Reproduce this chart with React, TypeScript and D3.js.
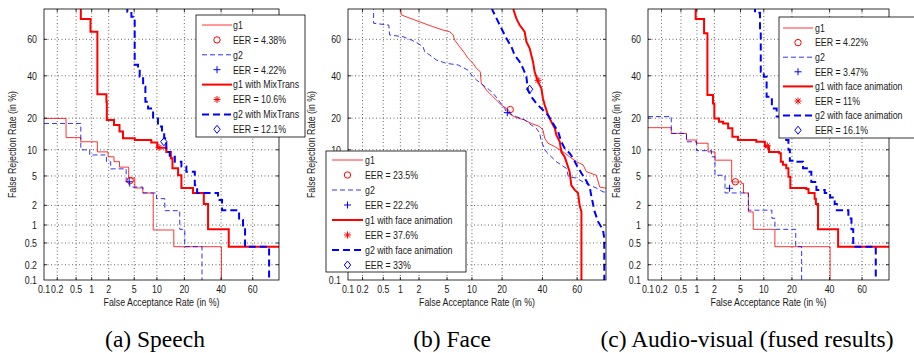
import { useEffect, useRef } from "react"
import * as d3 from "d3"

type Pt = [number, number]

// DET axes: both in %, on a normal-deviate scale
const ticks = [0.1, 0.2, 0.5, 1, 2, 5, 10, 20, 40, 60]
const tickLabels = ["0.1", "0.2", "0.5", "1", "2", "5", "10", "20", "40", "60"]
const axisMin = 0.1
const axisMax = 75

// (a) Speech  [FA %, FR %]
const speechG1: Pt[] = [
  [0.1, 19.9], [0.31, 13.3], [0.62, 12.1], [1.27, 9.5], [1.95, 8.4], [2.45, 7.4], [3.0, 6.4],
  [4.15, 4.7], [5.1, 3.5], [6.6, 3.0], [9.0, 0.83], [15.6, 0.43], [40.2, 0.05],
]
const speechG2: Pt[] = [
  [0.1, 18], [0.62, 10], [0.92, 8.8], [1.83, 7.4], [2.16, 6.1], [3.8, 4.2], [4.3, 3.6], [6.6, 3.0],
  [9.9, 2.5], [12.4, 1.67], [18, 0.85], [20.2, 0.43], [28.8, 0.05],
]
const speechG1Mix: Pt[] = [
  [0.62, 95], [0.62, 70.4], [0.95, 64], [1.27, 30.5], [1.83, 27], [1.86, 19.3], [2.45, 17.4],
  [3.0, 15.2], [3.4, 13.1], [5.1, 12.6], [8.5, 11.9], [10.1, 10.5], [12.9, 9.5], [14.5, 8.1],
  [15.1, 6.2], [17.3, 5.1], [18.7, 3.5], [24.1, 3.0], [29.8, 2.1], [32.2, 0.85], [44.8, 0.43], [90, 0.43],
]
const speechG2Mix: Pt[] = [
  [3.96, 95], [3.96, 73.8], [4.55, 71.5], [5.08, 67.4], [5.08, 46], [5.66, 44], [5.97, 39.5],
  [6.65, 34.3], [7.13, 27], [7.74, 24], [8.97, 19.9], [10.3, 16.9], [11.5, 15.2], [12.2, 13.1],
  [12.9, 9.5], [14.1, 8.4], [16.0, 7.4], [18.7, 6.5], [20.9, 5.65], [25.0, 3.8], [26.2, 3.0],
  [38.1, 2.4], [40.6, 1.7], [51.4, 1.2], [53.9, 0.85], [55.2, 0.43], [69.7, 0.05],
]
const speechEER = [4.38, 4.22, 10.6, 12.1]

// (b) Face
const faceG1: Pt[] = [
  [0.97, 80], [1.04, 72.3], [1.71, 69.9], [3.2, 66.6], [4.4, 64.9], [5.4, 64.0], [6.0, 62.3],
  [6.25, 59.6], [7.2, 56.0], [8.3, 52.3], [9.0, 49.6], [10.3, 46.8], [11.2, 44.0], [12.3, 42.2],
  [12.6, 36.0], [13.1, 35.1], [14.2, 32.6], [15.9, 30.1], [17.7, 27.8], [19.7, 25.5], [21.8, 24.0],
  [23.2, 22.9], [24.0, 21.2], [26.3, 20.2], [30.4, 19.3], [33.9, 18.0], [38.5, 16.9], [40.3, 15.7],
  [41.3, 13.1], [43.2, 11.7], [47.1, 10.8], [51.9, 9.5], [55.7, 8.4], [59.6, 7.4], [63.3, 6.8],
  [65.1, 5.65], [70.3, 5.1], [72, 3.6], [74.4, 3.5], [80, 3.4],
]
const faceG2: Pt[] = [
  [0.33, 80], [0.33, 68.3], [0.63, 67.4], [0.65, 62.3], [1.11, 61.4], [1.52, 59.6], [1.93, 57.8],
  [2.3, 56.0], [2.44, 53.2], [2.89, 51.4], [3.6, 48.6], [4.9, 46.8], [6.9, 45.9], [9.0, 43.1],
  [9.9, 40.4], [11.2, 37.8], [13.1, 35.1], [15.3, 32.6], [17.1, 30.1], [19.0, 27.0], [21.1, 24.0],
  [21.8, 22.3], [26.3, 20.6], [30.4, 19.3], [33.9, 17.4], [36.6, 16.3], [38.5, 14.6], [39.4, 12.1],
  [42.2, 9.5], [48.0, 7.4], [53.8, 6.2], [55, 4.9], [59.6, 4.7], [63.3, 4.2], [66.9, 3.8],
  [70.3, 3.5], [73.6, 3.1], [80, 3.0],
]
const faceG1Anim: Pt[] = [
  [24.5, 80], [25.0, 74.5], [26.3, 70.7], [27.9, 67.4], [30.4, 64.0], [31.3, 58.7], [33.0, 55.1],
  [34.8, 47.7], [35.7, 42.2], [37.5, 36.9], [39.4, 33.4], [40.3, 28.5], [41.3, 25.5], [43.2, 21.2],
  [45.1, 18.6], [47.1, 16.3], [48.0, 14.1], [50.0, 12.1], [50.9, 9.5], [52.8, 8.4], [53.8, 7.4],
  [55.7, 5.65], [56.7, 3.8], [58.6, 3.3], [60.5, 3.0], [61.4, 2.0], [62.4, 1.6], [62.4, 0.05],
]
const faceG2Anim: Pt[] = [
  [15.5, 80], [16.3, 74.5], [18.4, 69.1], [20.4, 64.0], [21.8, 60.5], [24.0, 56.0], [25.5, 51.4],
  [27.9, 47.7], [29.6, 44.0], [31.3, 39.5], [32.1, 32.6], [33.9, 29.3], [36.6, 26.2], [40.3, 23.3],
  [43.2, 21.2], [46.1, 18.0], [49.0, 15.2], [50.9, 12.1], [52.8, 10.4], [55.7, 9.2], [57.7, 8.1],
  [59.6, 6.8], [62.4, 5.4], [64.2, 4.7], [66.9, 3.6], [67.8, 2.66], [69.5, 1.6], [71.2, 1.13],
  [73.6, 0.83], [74.2, 0.6], [74.2, 0.05],
]
const faceEER = [23.5, 22.2, 37.6, 33]

// (c) Audio-visual (fused results)
const avG1: Pt[] = [
  [0.1, 16.5], [0.32, 14.6], [0.64, 12.6], [0.98, 11.7], [1.57, 9.5], [2.05, 7.7], [3.73, 4.2],
  [5.2, 4.0], [5.5, 3.0], [6.4, 1.6], [7.4, 0.85], [13.4, 0.43], [40.3, 0.05],
]
const avG2: Pt[] = [
  [0.1, 20.6], [0.32, 14.6], [0.64, 12.1], [0.98, 9.8], [1.79, 8.4], [2.05, 5.1], [2.96, 3.0],
  [6.4, 1.7], [12.4, 1.28], [13.4, 0.85], [21.7, 0.43], [24.5, 0.05],
]
const avG1Anim: Pt[] = [
  [0.95, 95], [0.95, 70.4], [1.34, 63.2], [1.53, 30.1], [1.9, 26.2], [2.0, 19.9], [2.38, 18.6],
  [2.76, 18.0], [3.3, 16.3], [3.82, 13.6], [4.6, 12.6], [8.1, 12.1], [10.3, 10.8], [11.5, 9.5],
  [14.9, 9.2], [15.5, 7.4], [16.3, 6.8], [17.6, 6.2], [18.5, 4.9], [19.3, 3.5], [26.9, 3.4],
  [28, 3.0], [31.3, 2.5], [32, 2.1], [33.2, 0.85], [45.2, 0.43], [90, 0.43],
]
const avG2Anim: Pt[] = [
  [7.8, 95], [7.8, 73.3], [9.0, 64.9], [9.2, 42.2], [10.0, 39.5], [10.8, 29.3], [12.4, 24],
  [14.0, 20.6], [15.8, 18.0], [17.1, 12.6], [18.5, 10], [19.1, 7.6], [22.0, 7.4], [25.2, 6.2],
  [27.8, 5.65], [29.5, 4.2], [32.3, 3.3], [37.1, 3.0], [40.3, 2.6], [43.1, 2.1], [44.4, 1.7],
  [51.6, 1.27], [53.5, 0.85], [54.6, 0.43], [68, 0.05],
]
const avEER = [4.22, 3.47, 11, 16.1]

const mixNames = ["g1", "g2", "g1 with MixTrans", "g2 with MixTrans"]
const animNames = ["g1", "g2", "g1 with face animation", "g2 with face animation"]

// line styles of the four series, same in every panel
const seriesStyle = [
  { color: "#ff0000", width: 1, dash: null, marker: "circle" },
  { color: "#0000ff", width: 1, dash: "5,3", marker: "plus" },
  { color: "#ff0000", width: 2, dash: null, marker: "star" },
  { color: "#0000ff", width: 2, dash: "7,4", marker: "diamond" },
]

const panels = [
  {
    caption: "(a) Speech", captionX: 155, left: 44, right: 279, step: true,
    series: [speechG1, speechG2, speechG1Mix, speechG2Mix], eer: speechEER, names: mixNames,
    legend: { x0: 196, y0: 15, x1: 305, y1: 137, row0: 25, rowStep: 14.9, lx0: 202, lx1: 232, tx: 233 },
    ylabX: 12,
  },
  {
    caption: "(b) Face", captionX: 452, left: 348, right: 606, step: false,
    series: [faceG1, faceG2, faceG1Anim, faceG2Anim], eer: faceEER, names: animNames,
    legend: { x0: 326, y0: 151, x1: 466, y1: 272, row0: 160, rowStep: 15, lx0: 332, lx1: 363, tx: 365 },
    ylabX: 311,
  },
  {
    caption: "(c) Audio-visual (fused results)", captionX: 747, left: 648, right: 889, step: true,
    series: [avG1, avG2, avG1Anim, avG2Anim], eer: avEER, names: animNames,
    legend: { x0: 779, y0: 17, x1: 918, y1: 138, row0: 28, rowStep: 14.6, lx0: 783, lx1: 813, tx: 815 },
    ylabX: 616,
  },
]

// inverse normal CDF (Acklam)
function probit(p: number) {
  const a = [-39.69683028665376, 220.9460984245205, -275.9285104469687, 138.357751867269, -30.66479806614716, 2.506628277459239]
  const b = [-54.47609879822406, 161.5858368580409, -155.6989798598866, 66.80131188771972, -13.28068155288572]
  const c = [-0.007784894002430293, -0.3223964580411365, -2.400758277161838, -2.549732539343734, 4.374664141464968, 2.938163982698783]
  const d = [0.007784695709041462, 0.3224671290700398, 2.445134137142996, 3.754408661907416]
  const pl = 0.02425
  if (p < pl) {
    const q = Math.sqrt(-2 * Math.log(p))
    return (((((c[0] * q + c[1]) * q + c[2]) * q + c[3]) * q + c[4]) * q + c[5]) / ((((d[0] * q + d[1]) * q + d[2]) * q + d[3]) * q + 1)
  }
  if (p > 1 - pl) {
    const q = Math.sqrt(-2 * Math.log(1 - p))
    return -(((((c[0] * q + c[1]) * q + c[2]) * q + c[3]) * q + c[4]) * q + c[5]) / ((((d[0] * q + d[1]) * q + d[2]) * q + d[3]) * q + 1)
  }
  const q = p - 0.5
  const r = q * q
  return ((((((a[0] * r + a[1]) * r + a[2]) * r + a[3]) * r + a[4]) * r + a[5]) * q) / (((((b[0] * r + b[1]) * r + b[2]) * r + b[3]) * r + b[4]) * r + 1)
}

const FONT = "'Liberation Sans', Arial, sans-serif"

// matlab-ish condensed label text
function label(g: any, x: number, y: number, s: string, anchor: string, rotate = 0) {
  return g.append("text")
    .attr("transform", `translate(${x},${y})${rotate ? ` rotate(${rotate})` : ""} scale(0.8,1)`)
    .attr("dy", "0.35em")
    .attr("text-anchor", anchor)
    .attr("font-family", FONT)
    .attr("font-size", 11)
    .attr("fill", "#1a1a1a")
    .text(s)
}

function drawMarker(g: any, type: string, x: number, y: number, color: string) {
  if (type === "circle") {
    g.append("circle").attr("cx", x).attr("cy", y).attr("r", 3.2)
      .attr("fill", "none").attr("stroke", color).attr("stroke-width", 1)
  } else if (type === "plus") {
    g.append("path").attr("d", `M${x - 3.5},${y}H${x + 3.5}M${x},${y - 3.5}V${y + 3.5}`)
      .attr("stroke", color).attr("stroke-width", 1)
  } else if (type === "star") {
    const s = 3.5, k = 2.5
    g.append("path")
      .attr("d", `M${x - s},${y}H${x + s}M${x},${y - s}V${y + s}M${x - k},${y - k}L${x + k},${y + k}M${x - k},${y + k}L${x + k},${y - k}`)
      .attr("stroke", color).attr("stroke-width", 1)
  } else {
    g.append("path").attr("d", `M${x},${y - 4}L${x + 3.2},${y}L${x},${y + 4}L${x - 3.2},${y}Z`)
      .attr("fill", "none").attr("stroke", color).attr("stroke-width", 1)
  }
}

export default function App() {
  const svgRef = useRef<SVGSVGElement | null>(null)

  useEffect(() => {
    if (!svgRef.current) return
    const svg = d3.select(svgRef.current)
    svg.selectAll("*").remove()

    const top = 9
    const bottom = 280

    panels.forEach((panel, pi) => {
      const g = svg.append("g")
      const x = d3.scaleLinear().domain([probit(axisMin / 100), probit(axisMax / 100)]).range([panel.left, panel.right])
      const y = d3.scaleLinear().domain([probit(axisMin / 100), probit(axisMax / 100)]).range([bottom, top])
      const px = (v: number) => x(probit(Math.min(Math.max(v, 0.001), 99.999) / 100))
      const py = (v: number) => y(probit(Math.min(Math.max(v, 0.001), 99.999) / 100))

      // clip
      const clipId = `clip${pi}`
      svg.append("clipPath").attr("id", clipId).append("rect")
        .attr("x", panel.left).attr("y", top).attr("width", panel.right - panel.left).attr("height", bottom - top)

      // dotted grid
      ticks.forEach((t) => {
        if (t > axisMin) {
          g.append("line").attr("x1", px(t)).attr("x2", px(t)).attr("y1", top).attr("y2", bottom)
            .attr("stroke", "#000").attr("stroke-width", 0.8).attr("stroke-dasharray", "1,2.5").attr("opacity", 0.75)
          g.append("line").attr("x1", panel.left).attr("x2", panel.right).attr("y1", py(t)).attr("y2", py(t))
            .attr("stroke", "#000").attr("stroke-width", 0.8).attr("stroke-dasharray", "1,2.5").attr("opacity", 0.75)
        }
      })

      // curves
      const line = d3.line<Pt>()
        .x((d) => px(d[0]))
        .y((d) => py(d[1]))
        .curve(panel.step ? d3.curveStepAfter : d3.curveLinear)

      const curves = g.append("g").attr("clip-path", `url(#${clipId})`)
      panel.series.forEach((s, si) => {
        const st = seriesStyle[si]
        curves.append("path").attr("d", line(s)).attr("fill", "none")
          .attr("stroke", st.color).attr("stroke-width", st.width)
          .attr("stroke-dasharray", st.dash).attr("opacity", st.width === 1 ? 0.8 : 1)
      })

      // EER markers on the diagonal
      panel.eer.forEach((e, si) => {
        drawMarker(curves, seriesStyle[si].marker, px(e), py(e), seriesStyle[si].color)
      })

      // ticks and box
      ticks.forEach((t) => {
        if (t > axisMin) {
          g.append("path")
            .attr("d", `M${px(t)},${bottom}v-3M${px(t)},${top}v3M${panel.left},${py(t)}h3M${panel.right},${py(t)}h-3`)
            .attr("stroke", "#000").attr("stroke-width", 0.8)
        }
      })
      g.append("rect").attr("x", panel.left).attr("y", top)
        .attr("width", panel.right - panel.left).attr("height", bottom - top)
        .attr("fill", "none").attr("stroke", "#000").attr("stroke-width", 0.8)

      // tick labels
      ticks.forEach((t, i) => {
        label(g, px(t), bottom + 9, tickLabels[i], "middle")
        label(g, panel.left - 7, py(t), tickLabels[i], "end")
      })

      // axis titles
      label(g, (panel.left + panel.right) / 2, 302, "False Acceptance Rate (in %)", "middle")
      label(g, panel.ylabX, (top + bottom) / 2, "False Rejection Rate (in %)", "middle", -90)

      // legend
      const L = panel.legend
      const lg = svg.append("g")
      lg.append("rect").attr("x", L.x0).attr("y", L.y0).attr("width", L.x1 - L.x0).attr("height", L.y1 - L.y0)
        .attr("fill", "#fff").attr("stroke", "#000").attr("stroke-width", 0.8)
      panel.names.forEach((name, si) => {
        const st = seriesStyle[si]
        const ry = L.row0 + si * 2 * L.rowStep
        const ey = ry + L.rowStep
        lg.append("line").attr("x1", L.lx0).attr("x2", L.lx1).attr("y1", ry).attr("y2", ry)
          .attr("stroke", st.color).attr("stroke-width", st.width).attr("stroke-dasharray", st.dash)
          .attr("opacity", st.width === 1 ? 0.8 : 1)
        label(lg, L.tx, ry, name, "start")
        drawMarker(lg, st.marker, (L.lx0 + L.lx1) / 2, ey, st.color)
        label(lg, L.tx, ey, `EER = ${panel.eer[si]}%`, "start")
      })

      // caption
      svg.append("text").attr("x", panel.captionX).attr("y", 347).attr("text-anchor", "middle")
        .attr("font-family", "'Liberation Serif', 'Times New Roman', serif").attr("font-size", 23.5)
        .attr("fill", "#000").text(panel.caption)
    })
  }, [])

  return (
    <svg ref={svgRef} width={914} height={353}
      style={{ position: "absolute", left: 0, top: 0, background: "#fff" }}></svg>
  )
}
